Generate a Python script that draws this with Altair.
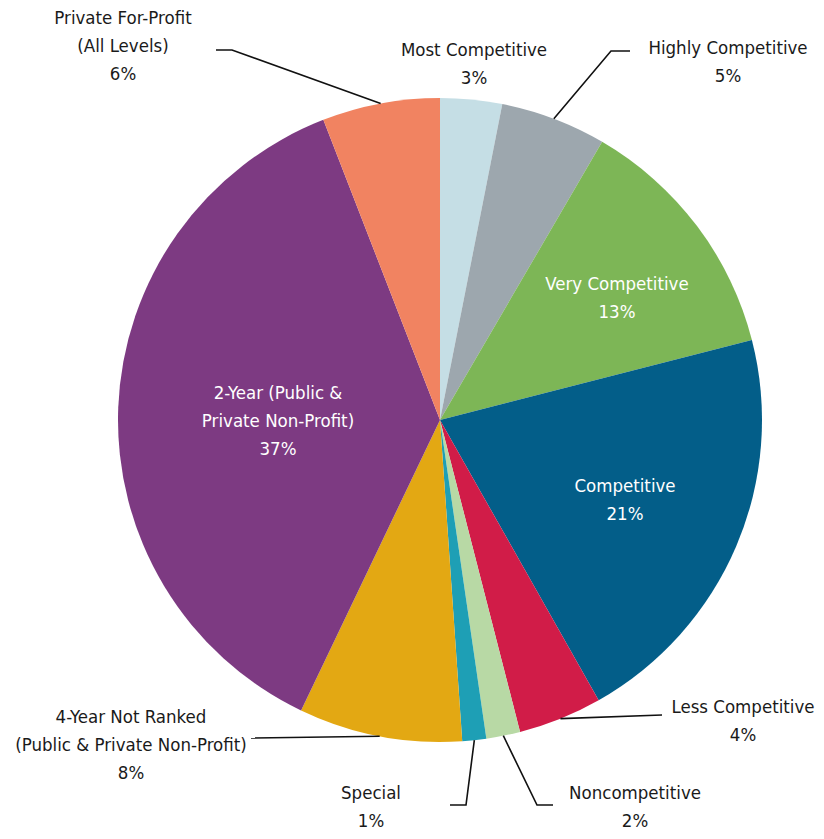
import math
import altair as alt
import pandas as pd

# ---- data ----
categories = ["Most Competitive", "Highly Competitive", "Very Competitive", "Competitive",
              "Less Competitive", "Noncompetitive", "Special", "4-Year Not Ranked",
              "2-Year", "Private For-Profit"]
label_text = ["Most Competitive\n3%", "Highly Competitive\n5%", "Very Competitive\n13%",
              "Competitive\n21%", "Less Competitive\n4%", "Noncompetitive\n2%", "Special\n1%",
              "4-Year Not Ranked\n(Public & Private Non-Profit)\n8%",
              "2-Year (Public &\nPrivate Non-Profit)\n37%",
              "Private For-Profit\n(All Levels)\n6%"]
shares = [3.1, 5.3, 12.6, 20.8, 4.2, 1.7, 1.2, 8.2, 37.0, 5.9]
colors = ["#C5DEE5", "#9DA7AE", "#7DB656", "#035E89", "#D11C48",
          "#B8D9A5", "#1E9FB5", "#E3A813", "#7D3A82", "#F18361"]

# ---- layout ----
W, H = 808, 823
CX, CY, R = 432, 412, 322
FONT = "DejaVu Sans Condensed"
FS = 18.5
LH = 28

# first-line centre of each label, and leader path (after the slice edge point)
layout = {
    "Most Competitive": dict(text=(466, 42), path=[], inside=False),
    "Highly Competitive": dict(text=(720, 40), path=[(603, 43), (622, 43)], inside=False),
    "Very Competitive": dict(text=(609, 276), path=[], inside=True),
    "Competitive": dict(text=(617, 478), path=[], inside=True),
    "Less Competitive": dict(text=(735, 699), path=[(654, 707)], inside=False),
    "Noncompetitive": dict(text=(627, 785), path=[(529, 797), (545, 797)], inside=False),
    "Special": dict(text=(363, 785), path=[(458, 797), (442, 797)], inside=False),
    "4-Year Not Ranked": dict(text=(123, 709), path=[(243, 730)], inside=False),
    "2-Year": dict(text=(270, 385), path=[], inside=True),
    "Private For-Profit": dict(text=(115, 10), path=[(224, 42), (208, 42)], inside=False),
}

total = sum(shares)
df = pd.DataFrame({"cat": categories, "share": shares, "order": list(range(len(categories)))})

cum = 0.0
txt_rows, line_rows = [], []
for c, s, t in zip(categories, shares, label_text):
    mid = (cum + s / 2) / total * 2 * math.pi
    cum += s
    o = layout[c]
    txt_rows.append(dict(cat=c, label=t, px=o["text"][0], py=o["text"][1], inside=o["inside"]))
    if o["path"]:
        pts = [(CX + R * math.sin(mid), CY - R * math.cos(mid))] + o["path"]
        for i, (x, y) in enumerate(pts):
            line_rows.append(dict(cat=c, i=i, px=x, py=y))

tdf = pd.DataFrame(txt_rows)
ldf = pd.DataFrame(line_rows)

xs = alt.Scale(domain=[0, W], range=[0, W])
ys = alt.Scale(domain=[0, H], range=[0, H])

pie = alt.Chart(df).mark_arc(outerRadius=R, stroke=None).encode(
    theta=alt.Theta("share:Q", stack=True),
    order=alt.Order("order:Q"),
    color=alt.Color("cat:N", scale=alt.Scale(domain=categories, range=colors), legend=None),
    x=alt.value(CX),
    y=alt.value(CY),
)

lines = alt.Chart(ldf).mark_line(color="#111111", strokeWidth=1.6).encode(
    x=alt.X("px:Q", scale=xs, axis=None),
    y=alt.Y("py:Q", scale=ys, axis=None),
    detail="cat:N",
    order="i:Q",
)

texts = alt.Chart(tdf).mark_text(font=FONT, fontSize=FS, lineBreak="\n", lineHeight=LH,
                                 align="center", baseline="middle").encode(
    x=alt.X("px:Q", scale=xs, axis=None),
    y=alt.Y("py:Q", scale=ys, axis=None),
    text="label:N",
    color=alt.condition("datum.inside", alt.value("white"), alt.value("#1a1a1a")),
)

chart = alt.layer(pie, lines, texts).properties(
    width=W, height=H, autosize=alt.AutoSizeParams(type="none"), padding=0
).configure_view(stroke=None)

chart.save("out.html", embed_options={"renderer": "svg", "actions": False})
